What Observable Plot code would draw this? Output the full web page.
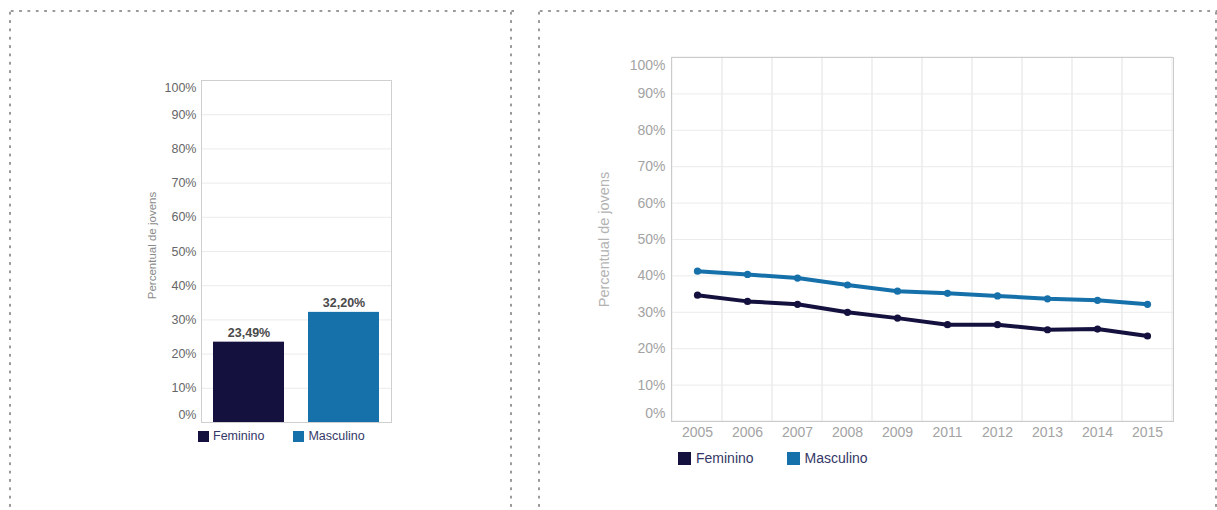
<!DOCTYPE html>
<html>
<head>
<meta charset="utf-8">
<script src="https://cdn.jsdelivr.net/npm/d3@7"></script>
<script src="https://cdn.jsdelivr.net/npm/@observablehq/plot@0.6"></script>
<style>
  html, body { margin: 0; padding: 0; background: #fff; }
  body { width: 1217px; height: 510px; position: relative; overflow: hidden;
         font-family: "Liberation Sans", Arial, sans-serif; }
  .dh { position: absolute; height: 4px;
        background-image: radial-gradient(circle, #9a9a9a 1.1px, transparent 1.5px);
        background-size: 8.35px 4px; background-repeat: repeat-x; }
  .dv { position: absolute; width: 4px;
        background-image: radial-gradient(circle, #9a9a9a 1.1px, transparent 1.5px);
        background-size: 4px 8.35px; background-repeat: repeat-y; }
  .chart { position: absolute; }
  .legend { position: absolute; display: flex; align-items: center; color: #343867; }
  .legend .sw { display: inline-block; }
</style>
</head>
<body>
<div class="dh" style="left:8px; top:9px; width:506px;"></div>
<div class="dv" style="left:8px; top:9px; height:510px;"></div>
<div class="dv" style="left:509px; top:9px; height:510px;"></div>
<div class="dh" style="left:537px; top:9px; width:682px;"></div>
<div class="dv" style="left:537px; top:9px; height:510px;"></div>
<div class="dv" style="left:1214px; top:9px; height:510px;"></div>

<div id="left" class="chart" style="left:0; top:0;"></div>
<div id="right" class="chart" style="left:540px; top:0;"></div>

<div id="legLeft"></div>
<div id="legRight"></div>

<script>
// ---- data ----
const categories = ["Feminino", "Masculino"];
const barValues = [23.49, 32.20];
const barLabels = ["23,49%", "32,20%"];
const colors = ["#15113f", "#1670aa"];

const years = ["2005", "2006", "2007", "2008", "2009", "2011", "2012", "2013", "2014", "2015"];
const feminino = [34.7, 33.0, 32.2, 30.0, 28.4, 26.6, 26.6, 25.2, 25.4, 23.49];
const masculino = [41.3, 40.4, 39.4, 37.5, 35.8, 35.2, 34.5, 33.7, 33.3, 32.2];

const yTicksMid = [10, 20, 30, 40, 50, 60, 70, 80, 90];
const yTickLow = [0];
const yTickHigh = [100];
const yLabel = "Percentual de jovens";

const pct = d => d + "%";
const font = '"Liberation Sans", Arial, sans-serif';

// ---- left bar chart ----
const bars = categories.map((c, i) => ({cat: c, value: barValues[i], label: barLabels[i]}));
const leftAxis = {tickSize: 0, tickPadding: 5, tickFormat: pct, fontSize: 12.5, color: "#666", label: null};
const left = Plot.plot({
  width: 520, height: 460,
  marginLeft: 201, marginRight: 129, marginTop: 80, marginBottom: 38,
  style: {fontFamily: font, background: "transparent"},
  x: {domain: categories, paddingInner: 0.25, paddingOuter: 0.125, axis: null},
  y: {domain: [0, 100], axis: null},
  color: {domain: categories, range: colors},
  marks: [
    Plot.gridY(yTicksMid, {stroke: "#ebebeb", strokeOpacity: 1}),
    Plot.barY(bars, {x: "cat", y: "value", fill: "cat"}),
    Plot.text(bars, {x: "cat", y: "value", text: "label", dy: -9, fontWeight: "bold", fontSize: 12.5, fill: "#4a4a4a"}),
    Plot.frame({stroke: "#cfcfcf"}),
    Plot.axisY(yTicksMid, leftAxis),
    Plot.axisY(yTickLow, {...leftAxis, dy: -8}),
    Plot.axisY(yTickHigh, {...leftAxis, dy: 7}),
    Plot.text([yLabel], {frameAnchor: "left", textAnchor: "middle", rotate: -90, dx: -49, dy: -6, fontSize: 11.5, fill: "#8a8a8a"})
  ]
});
document.getElementById("left").appendChild(left);

// ---- right line chart ----
const series = [];
years.forEach((y, i) => series.push({year: y, value: feminino[i], sex: "Feminino"}));
years.forEach((y, i) => series.push({year: y, value: masculino[i], sex: "Masculino"}));

const rightAxis = {tickSize: 0, tickPadding: 6, tickFormat: pct, fontSize: 14, color: "#a3a3a3", label: null};
const right = Plot.plot({
  width: 670, height: 445,
  marginLeft: 131, marginRight: 37, marginTop: 57, marginBottom: 24,
  style: {fontFamily: font, background: "transparent"},
  x: {type: "band", domain: years, padding: 0, axis: null},
  y: {domain: [0, 100], axis: null},
  color: {domain: categories, range: colors},
  marks: [
    Plot.cell(years, {x: d => d, fill: "none", stroke: "#ebebeb"}),
    Plot.gridY(yTicksMid, {stroke: "#ebebeb", strokeOpacity: 1}),
    Plot.frame({stroke: "#cbcbcb"}),
    Plot.line(series, {x: "year", y: "value", z: "sex", stroke: "sex", strokeWidth: 4}),
    Plot.dot(series, {x: "year", y: "value", fill: "sex", r: 3.6}),
    Plot.axisY(yTicksMid, rightAxis),
    Plot.axisY(yTickLow, {...rightAxis, dy: -8}),
    Plot.axisY(yTickHigh, {...rightAxis, dy: 8}),
    Plot.axisX({tickSize: 0, tickPadding: 6, fontSize: 14, color: "#a3a3a3", label: null}),
    Plot.text([yLabel], {frameAnchor: "left", textAnchor: "middle", rotate: -90, dx: -67, fontSize: 14.5, fill: "#b3b3b3"})
  ]
});
document.getElementById("right").appendChild(right);

// ---- legends ----
function legend(el, items, opts) {
  el.className = "legend";
  el.style.left = opts.left + "px";
  el.style.top = opts.top + "px";
  el.style.fontSize = opts.fontSize + "px";
  items.forEach((name, i) => {
    const sw = document.createElement("span");
    sw.className = "sw";
    sw.style.width = opts.sw + "px";
    sw.style.height = opts.sw + "px";
    sw.style.background = colors[i];
    sw.style.marginRight = opts.gap + "px";
    const t = document.createElement("span");
    t.textContent = name;
    t.style.marginRight = opts.after[i] + "px";
    el.appendChild(sw);
    el.appendChild(t);
  });
}
legend(document.getElementById("legLeft"), categories,
  {left: 198, top: 429, fontSize: 12.5, sw: 11, gap: 4, after: [29, 0]});
legend(document.getElementById("legRight"), categories,
  {left: 678, top: 450, fontSize: 14, sw: 13, gap: 5, after: [33, 0]});
</script>
</body>
</html>
